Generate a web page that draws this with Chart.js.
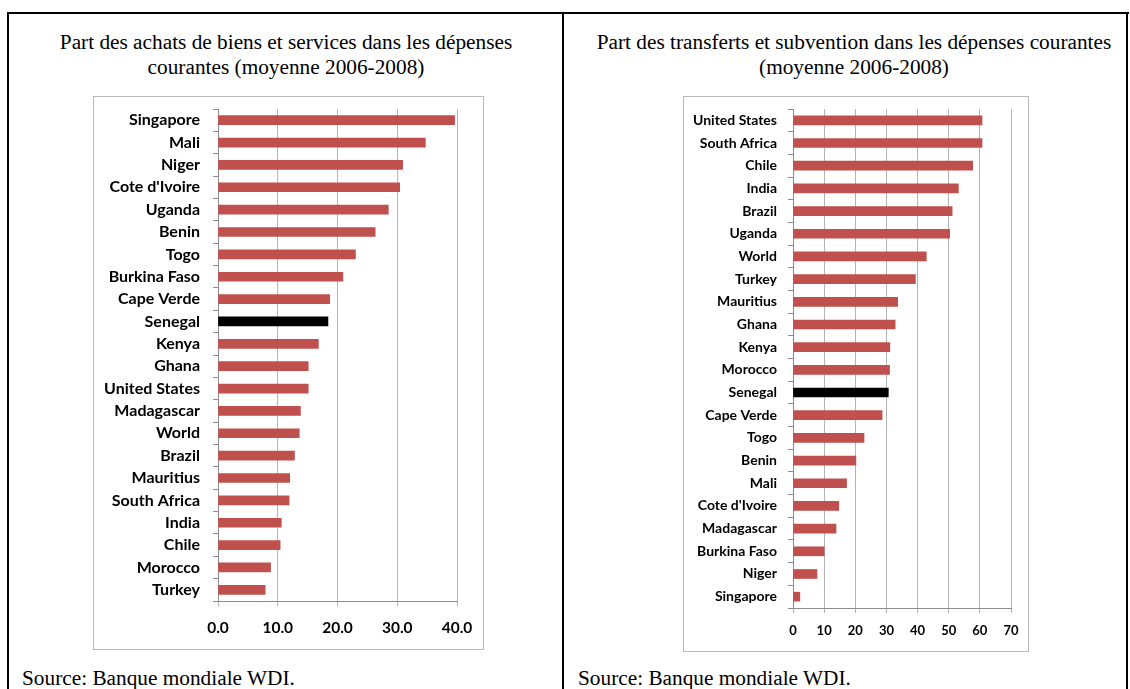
<!DOCTYPE html>
<html lang="fr">
<head>
<meta charset="utf-8">
<title>Dépenses courantes</title>
<script src="https://cdn.jsdelivr.net/npm/chart.js@4.4.1/dist/chart.umd.min.js"></script>
<style>
  body { margin: 0; background: #fff; }
  #page { position: relative; width: 1130px; height: 689px; overflow: hidden; background: #fff; }
  .line { position: absolute; background: #000; }
  .titre {
    position: absolute; text-align: center;
    font-family: "Liberation Serif", "Times New Roman", serif;
    font-size: 21.3px; line-height: 25px; color: #000;
  }
  .source {
    position: absolute;
    font-family: "Liberation Serif", "Times New Roman", serif;
    font-size: 21.3px; color: #000; white-space: nowrap;
  }
  .boite { position: absolute; border: 1px solid #b8b8b8; box-sizing: border-box; }
  .boite canvas { position: absolute; left: 0; top: 0; }
</style>
</head>
<body>
<div id="page">
  <div class="line" style="left:7px; top:12px; width:1122px; height:2px;"></div>
  <div class="line" style="left:7px; top:12px; width:2px; height:700px;"></div>
  <div class="line" style="left:562px; top:12px; width:2px; height:700px;"></div>
  <div class="line" style="left:1126px; top:12px; width:2px; height:700px;"></div>

  <div class="titre" style="left:26px; top:30px; width:520px;">Part des achats de biens et services dans les dépenses<br>courantes (moyenne 2006-2008)</div>
  <div class="titre" style="left:574px; top:30px; width:560px;">Part des transferts et subvention dans les dépenses courantes<br>(moyenne 2006-2008)</div>

  <div class="boite" style="left:93px; top:96px; width:391px; height:554px;">
    <canvas id="achats" width="389" height="552"></canvas>
  </div>
  <div class="boite" style="left:683px; top:96px; width:346px; height:556px;">
    <canvas id="transferts" width="344" height="554"></canvas>
  </div>

  <div class="source" style="left:22px; top:666px;">Source: Banque mondiale WDI.</div>
  <div class="source" style="left:578px; top:666px;">Source: Banque mondiale WDI.</div>
</div>

<script>
// achats de biens et services, % des dépenses courantes
const paysAchats = ['Singapore', 'Mali', 'Niger', "Cote d'Ivoire", 'Uganda', 'Benin', 'Togo',
  'Burkina Faso', 'Cape Verde', 'Senegal', 'Kenya', 'Ghana', 'United States', 'Madagascar',
  'World', 'Brazil', 'Mauritius', 'South Africa', 'India', 'Chile', 'Morocco', 'Turkey'];
const valeursAchats = [39.6, 34.7, 30.9, 30.4, 28.5, 26.3, 23.0, 20.9, 18.7, 18.4, 16.8,
  15.1, 15.1, 13.8, 13.6, 12.8, 12.0, 11.9, 10.6, 10.4, 8.8, 7.9];
const ticksAchats = ['0.0', '10.0', '20.0', '30.0', '40.0'];

// transferts et subventions, % des dépenses courantes
const paysTransferts = ['United States', 'South Africa', 'Chile', 'India', 'Brazil', 'Uganda',
  'World', 'Turkey', 'Mauritius', 'Ghana', 'Kenya', 'Morocco', 'Senegal', 'Cape Verde', 'Togo',
  'Benin', 'Mali', "Cote d'Ivoire", 'Madagascar', 'Burkina Faso', 'Niger', 'Singapore'];
const valeursTransferts = [60.7, 60.7, 57.7, 53.1, 51.1, 50.3, 42.8, 39.3, 33.6, 32.8, 31.1,
  31.0, 30.6, 28.6, 22.8, 20.2, 17.2, 14.7, 13.8, 10.0, 7.7, 2.2];
const ticksTransferts = ['0', '10', '20', '30', '40', '50', '60', '70'];

const ROUGE = '#c0504d';
const NOIR = '#000000';

function couleurs(pays) {
    return pays.map(p => p === 'Senegal' ? NOIR : ROUGE);
}

function graphique(id, pays, valeurs, tickLabels, opts) {
    const ctx = document.getElementById(id).getContext('2d');
    const max = (tickLabels.length - 1) * 10;

    return new Chart(ctx, {
        type: 'bar',
        data: {
            labels: pays,
            datasets: [{
                data: valeurs,
                backgroundColor: couleurs(pays),
                borderWidth: 0,
                barThickness: 9
            }]
        },
        options: {
            indexAxis: 'y',
            responsive: false,
            animation: false,
            layout: {
                padding: { left: 0, right: opts.right, top: opts.top, bottom: 0 }
            },
            plugins: {
                legend: { display: false },
                tooltip: { enabled: false }
            },
            scales: {
                x: {
                    min: 0,
                    max: max,
                    afterFit: function(scale) {
                        scale.height = opts.bas;
                        scale.paddingLeft = 0;
                        scale.paddingRight = 0;
                    },
                    border: { color: '#8c8c8c' },
                    grid: {
                        color: '#b4b4b4',
                        tickLength: 5
                    },
                    ticks: {
                        stepSize: 10,
                        padding: opts.padX,
                        color: '#000',
                        font: { family: 'Lato', weight: 'bold', size: opts.tailleX },
                        callback: function(v, i) { return tickLabels[i]; }
                    }
                },
                y: {
                    afterFit: function(scale) {
                        // les marges de la liste des pays sont gérées par layout.padding
                        scale.width = opts.gauche;
                        scale.paddingTop = 0;
                        scale.paddingBottom = 0;
                    },
                    border: { color: '#8c8c8c' },
                    grid: {
                        drawOnChartArea: false,
                        color: '#8c8c8c',
                        tickLength: 5
                    },
                    ticks: {
                        padding: opts.padY,
                        color: '#000',
                        autoSkip: false,
                        font: { family: 'Lato', weight: 'bold', size: opts.tailleY }
                    }
                }
            }
        }
    });
}

graphique('achats', paysAchats, valeursAchats, ticksAchats, {
    gauche: 124, right: 26, top: 12, bas: 48,
    padX: 13, padY: 13, tailleX: 15.5, tailleY: 16
});

graphique('transferts', paysTransferts, valeursTransferts, ticksTransferts, {
    gauche: 109, right: 17, top: 12, bas: 43,
    padX: 10, padY: 11, tailleX: 13, tailleY: 14
});
</script>
</body>
</html>
